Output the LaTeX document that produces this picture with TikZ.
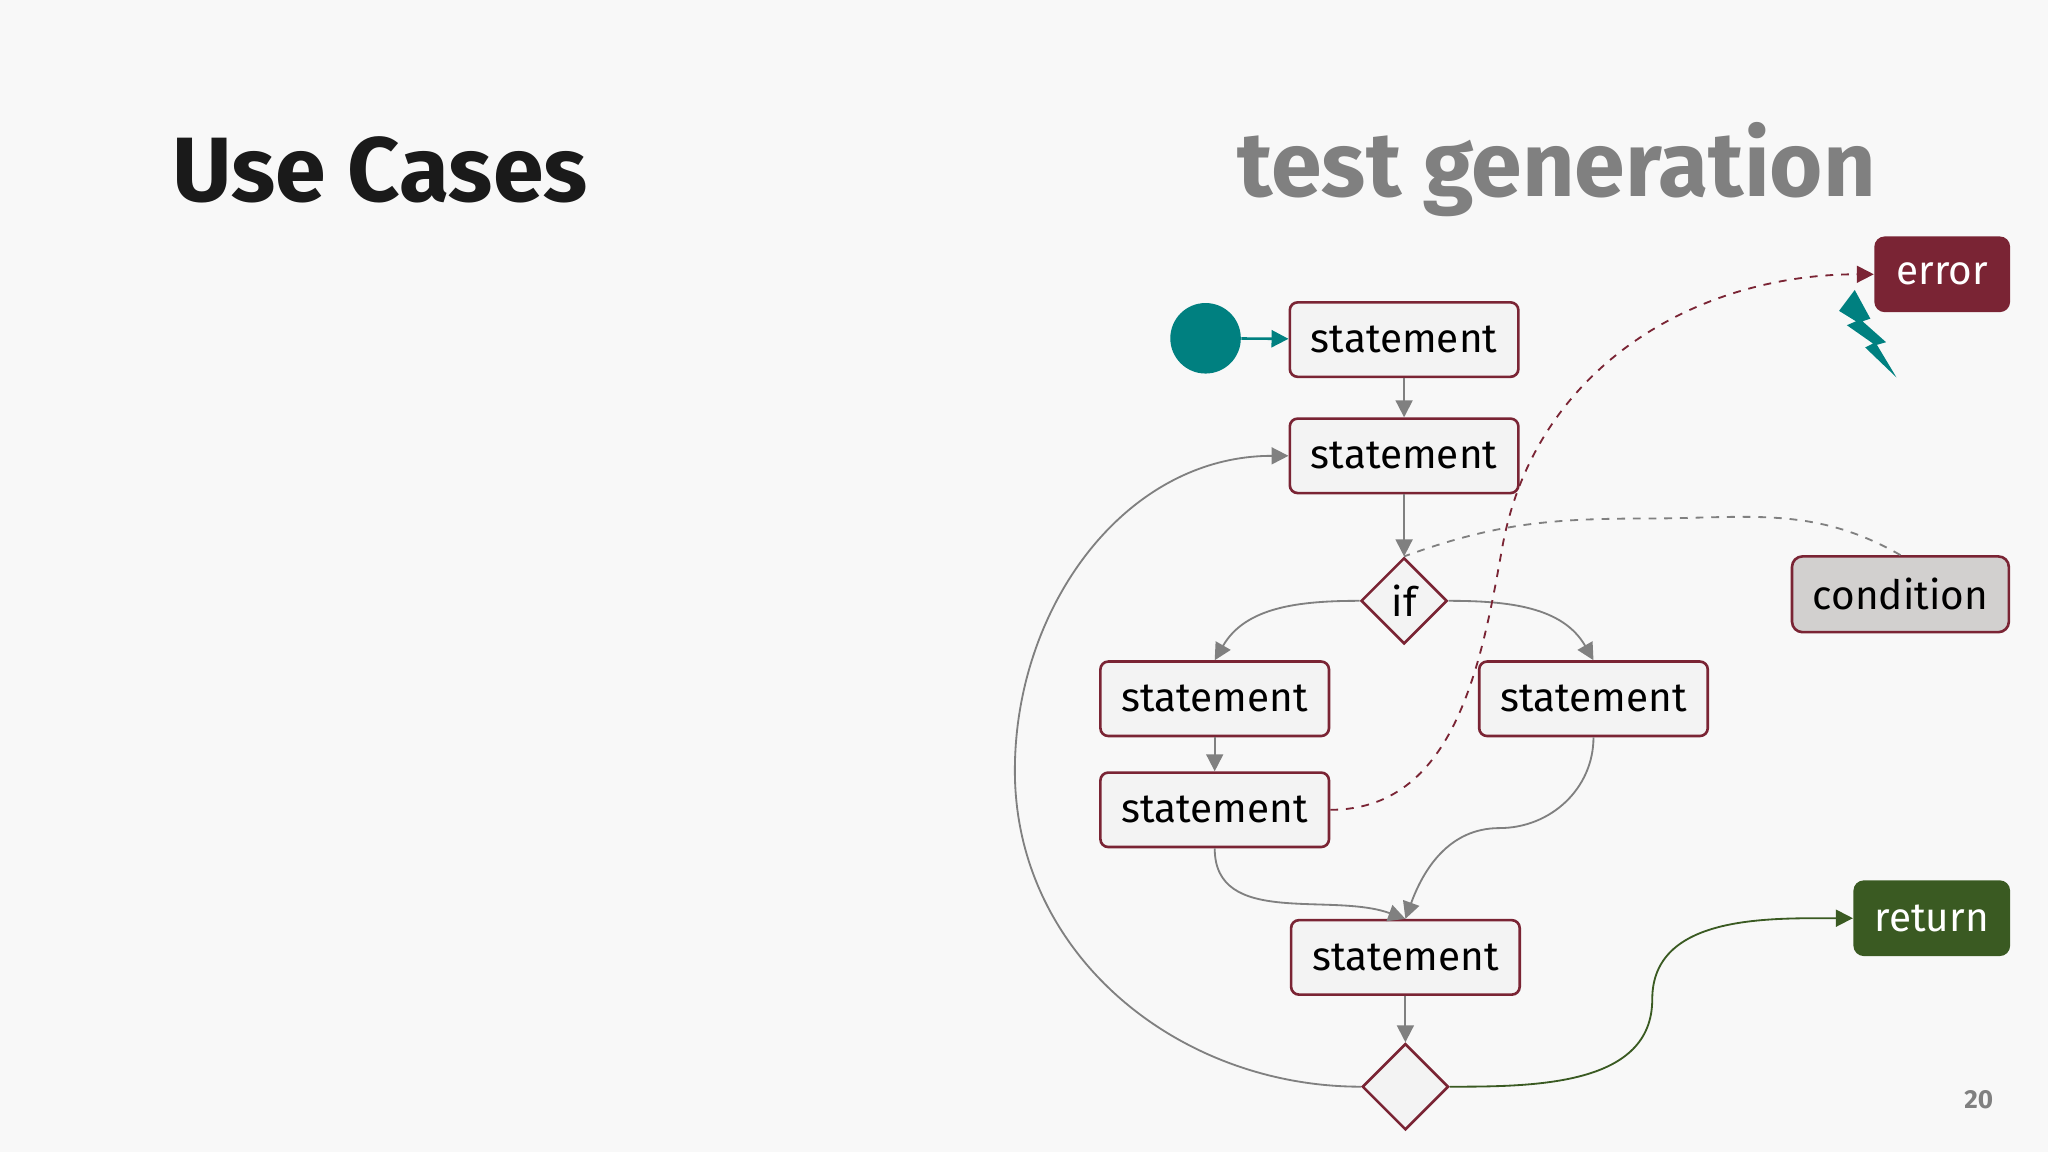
\documentclass[tikz,border=0pt]{standalone}
\usepackage{fontspec}
\setmainfont{Fira Sans}
\usetikzlibrary{shapes.geometric, arrows.meta}
\definecolor{bgc}{HTML}{F8F8F8}
\definecolor{boxc}{HTML}{F3F3F3}
\definecolor{maroon}{HTML}{7A2434}
\definecolor{tealc}{HTML}{008080}
\definecolor{greenc}{HTML}{3A5A22}
\definecolor{condc}{HTML}{D2D0CF}
\tikzset{
  stmt/.style={draw=maroon, line width=1pt, fill=boxc, rounded corners=3pt,
    minimum width=87.5pt, minimum height=28.5pt, font=\fontsize{15.5}{15.5}\selectfont},
  dec/.style={draw=maroon, line width=1pt, fill=boxc, diamond, aspect=1,
    minimum size=33pt, inner sep=0pt, font=\fontsize{15.5}{15.5}\selectfont},
  tag/.style={rounded corners=4pt, minimum height=29pt, inner xsep=7pt,
    font=\fontsize{15.5}{15.5}\selectfont},
  flow/.style={-{Triangle[length=6.5pt,width=6.5pt]}, gray, line width=0.7pt}
}
\begin{document}
\begin{tikzpicture}[x=0.5pt, y=-0.5pt]
  \fill[bgc] (0,0) rectangle (1568,882);
  \node (title) at (291,130) {\fontsize{35}{35}\selectfont\bfseries\color[HTML]{1A1A1A}Use Cases};
  \node (sub) at (1192,130) {\fontsize{35}{35}\selectfont\bfseries\color[HTML]{808080}test generation};
  \node (page) at (1515,842) {\fontsize{10}{10}\selectfont\bfseries\color[HTML]{808080}20};

  \node[circle, fill=tealc, minimum size=27pt, inner sep=0pt] (start) at (923,259) {};
  \node[stmt] (s1) at (1075,260) {statement};
  \node[stmt] (s2) at (1075,349) {statement};
  \node[dec] (if) at (1075,460) {if};
  \node[stmt] (s3) at (930,535) {statement};
  \node[stmt] (s4) at (930,620) {statement};
  \node[stmt] (s5) at (1220,535) {statement};
  \node[stmt] (s6) at (1076,733) {statement};
  \node[dec] (end) at (1076,832) {};
  \node[tag, fill=maroon, text=white, minimum width=52pt] (error) at (1487,210) {error};
  \node[tag, fill=condc, draw=maroon, line width=1pt, minimum width=83pt] (cond) at (1455,455) {condition};
  \node[tag, fill=greenc, text=white, minimum width=60pt] (ret) at (1479,703) {return};

  \draw[flow, tealc, line width=1pt] (start) -- (s1);
  \draw[flow] (s1) -- (s2);
  \draw[flow] (s2) -- (if);
  \draw[flow] (if.west) to[out=180, in=60] (s3.north);
  \draw[flow] (if.east) to[out=0, in=120] (s5.north);
  \draw[flow] (s3) -- (s4);
  \draw[flow] (s4.south) to[out=-90, in=160] (s6.north);
  \draw[flow] (s5.south) to[out=-90, in=0] (1148,634) to[out=180, in=70] (s6.north);
  \draw[flow] (s6) -- (end);
  \draw[flow] (end.west) to[out=180, in=-90] (777,590) to[out=90, in=180] (s2.west);
  \draw[flow, greenc] (end.east) to[out=0, in=-90] (1265,765) to[out=90, in=180] (ret.west);
  \draw[flow, maroon, dashed] (s4.east) to[out=0, in=-100] (1150,420) to[out=80, in=180] (error.west);
  \draw[gray, dashed, line width=0.7pt] (cond.north) to[out=150, in=0] (1260,397) to[out=180, in=20] (if.north);

  \fill[tealc] (1408,238) -- (1420,222) -- (1432,244) -- (1426,246) -- (1444,262)
    -- (1437,264) -- (1452,289) -- (1428,266) -- (1434,263) -- (1414,249) -- (1421,246) -- cycle;
\end{tikzpicture}
\end{document}
